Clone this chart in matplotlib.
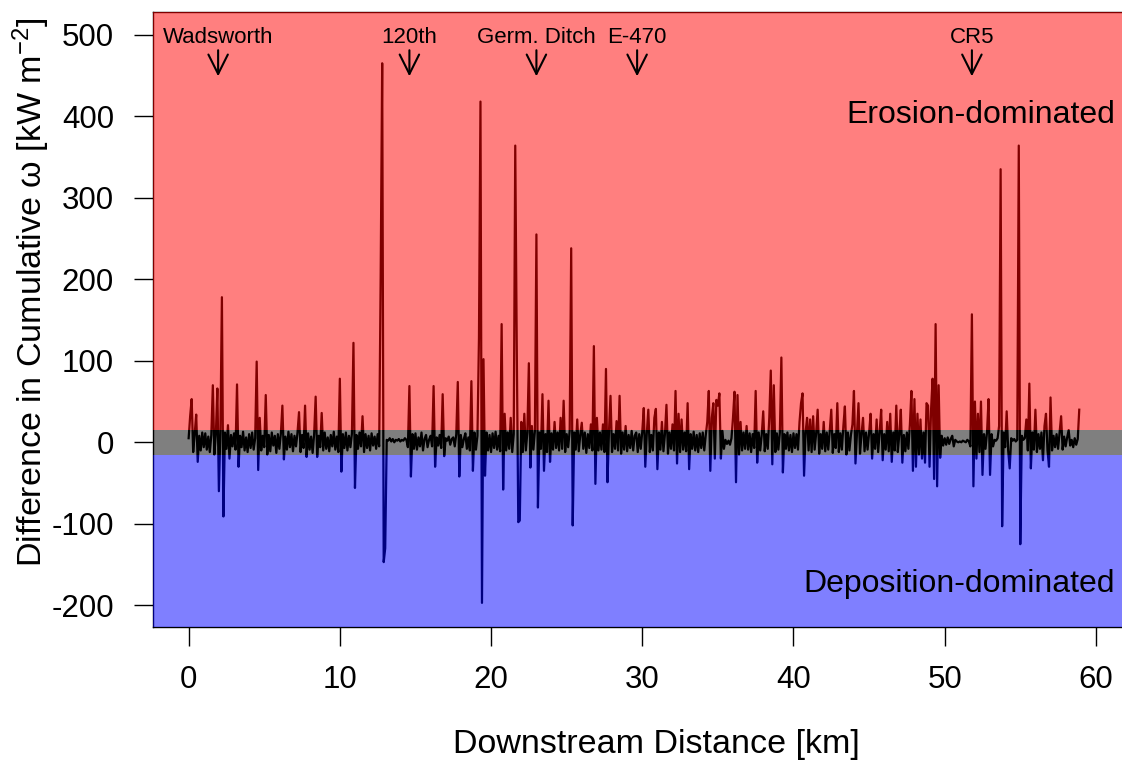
import numpy as np
import matplotlib
matplotlib.use("Agg")
import matplotlib.pyplot as plt

plt.rcParams['font.family'] = ['Liberation Sans', 'DejaVu Sans']
plt.rcParams['mathtext.fontset'] = 'custom'
plt.rcParams['mathtext.rm'] = 'Liberation Sans'
plt.rcParams['mathtext.it'] = 'Liberation Sans:italic'

# Difference in cumulative stream power, sampled every 0.1 km (rows = 1 km)
diff_omega = [
    5, 32, 53, -12, 10, 34, -24, 8, -10, 12,
    -6, 11, -9, 7, -12, 9, 70, -15, 10, 66,
    -60, 14, 178, -91, 12, -8, 21, -20, 9, -5,
    11, -9, 71, -30, 8, -6, 13, -10, 6, -12,
    10, -7, 12, -9, 5, 99, -34, 30, -10, 8,
    -6, 58, -15, 9, -11, 12, -4, 8, -13, 10,
    -8, 11, 45, -21, 7, -9, 13, -6, 10, -11,
    8, -5, 12, 37, -12, 9, -7, 45, -18, 11,
    -9, 7, -13, 10, 56, -18, 8, -6, 36, -10,
    12, -8, 6, -11, 9, -5, 13, -9, 7, -12,
    78, -36, 10, -7, 12, -10, 8, -6, 11, 122,
    -56, 9, -8, 12, -5, 32, -12, 10, -7, 8,
    -10, 11, -4, 7, -8, 10, -5, 204, 465, -147,
    -130, 3, 2, 5, 1, 4, 0, 3, 2, 4,
    1, 3, 2, 5, 3, -6, 69, -42, 10, -8,
    11, -9, 6, -5, 12, -10, 4, 9, -6, 3,
    8, -5, 69, -30, 6, -4, 9, -7, 59, -17,
    5, 2, 7, -3, 4, 6, -5, 10, 74, -42,
    9, -6, 4, 11, -8, 6, -10, 75, -35, 12,
    -9, 8, 128, 418, -197, 102, -41, 12, -10, 9,
    -12, 11, -7, 13, -9, 8, -11, 145, -58, 35,
    -10, 12, -8, 30, -12, 10, 364, 117, -98, -96,
    25, -12, 35, -10, 12, 97, -31, 20, -9, 14,
    255, -80, 12, -8, 59, -35, 10, -12, 51, -24,
    11, -9, 25, -7, 12, -10, 30, -8, 51, -12,
    10, -6, 14, 238, -102, 12, -9, 28, -11, 9,
    24, -8, 12, -13, 10, -7, 22, -10, 118, -51,
    30, -10, 12, -9, 22, -12, 90, -49, 14, 57,
    -12, 10, -8, 26, -10, 57, -14, 12, -9, 20,
    -11, 9, -7, 14, -10, 8, 12, -12, 10, -8,
    13, 42, -30, 11, 40, -12, 9, -10, 30, 41,
    -33, 12, -9, 25, -11, 10, 46, -14, 12, -8,
    22, -10, 63, -26, 35, -12, 28, -9, 12, -11,
    48, -33, 10, -8, 13, -10, 9, -12, 11, -7,
    12, -10, 9, 25, 63, -35, 30, 48, -20, 52,
    45, 60, -20, 14, -8, 3, -2, 2, -3, 5,
    30, 62, -49, 58, -15, 25, -10, 12, -8, 20,
    -9, 11, -12, 10, -7, 63, -25, 12, -10, 9,
    38, -11, 10, -8, 30, 88, -27, 70, -12, 11,
    -9, 12, 104, -37, 10, -8, 12, -10, 9, -12,
    11, -7, 10, -9, 25, 48, 60, -41, 12, 30,
    -10, 28, -12, 32, -9, 11, 40, -14, 10, -8,
    25, -11, 12, -9, 14, 40, -13, 10, -7, 48,
    -12, 11, -9, 20, 44, -15, 12, -10, 9, 22,
    63, -26, 12, 48, -14, 10, 30, -11, 12, -9,
    11, 35, -20, 10, -8, 28, -12, 12, 40, -22,
    10, -9, 25, -11, 35, -24, 12, -10, 45, -12,
    10, 40, -25, 9, -11, 12, -8, 22, 63, -35,
    53, -30, 35, -15, 28, -20, 12, -25, 48, 45,
    -30, 40, 78, -45, 145, -54, 70, -19, 8, -4,
    5, -3, 6, -2, 4, 8, -5, 3, 1, 0,
    1, 0, 2, 1, 0, 3, 1, -5, 157, -54,
    50, -20, 35, -12, 50, -40, 10, -8, 12, 53,
    -40, 10, -5, 3, 2, 5, 20, 335, -103, 12,
    -6, 38, -10, -32, 5, 2, 4, 1, 3, 364,
    -125, 8, 3, 5, 28, -10, 72, -32, 12, -9,
    40, -12, 10, -8, 12, -22, 20, 35, -10, -30,
    55, -10, 8, -6, 10, -8, 12, 32, -9, 7,
    -5, 6, 15, -4, 3, -6, 5, -3, 4, 40,
]
station_step_km = 0.1
distance_km = np.arange(len(diff_omega)) * station_step_km

site_names = ["Wadsworth", "120th", "Germ. Ditch", "E-470", "CR5"]
site_km = [1.95, 14.6, 23.0, 29.66, 51.8]

x_ticks = [0, 10, 20, 30, 40, 50, 60]
y_ticks = [-200, -100, 0, 100, 200, 300, 400, 500]
threshold = 15

W, H = 1122, 760
fig = plt.figure(figsize=(W / 100, H / 100), dpi=100)
ax = fig.add_axes([152.5 / W, (H - 627) / H, (1129 - 152.5) / W, (627 - 12) / H])

ax.plot(distance_km, diff_omega, color='black', lw=1.6, zorder=2)

ax.set_xlim(-2.39, 62.19)
ax.set_ylim(-226.6, 527.9)

# translucent classification bands drawn over the series
ax.axhspan(threshold, 600, color='#ff0000', alpha=0.5, lw=0, zorder=3)
ax.axhspan(-threshold, threshold, color='#000000', alpha=0.5, lw=0, zorder=3)
ax.axhspan(-300, -threshold, color='#0000ff', alpha=0.5, lw=0, zorder=3)

for s in ax.spines.values():
    s.set_linewidth(1.0)
    s.set_zorder(2.5)

ax.set_xticks(x_ticks)
ax.set_xticklabels([str(v) for v in x_ticks])
ax.set_yticks(y_ticks)
ax.set_yticklabels([str(v) for v in y_ticks])
ax.tick_params(axis='both', direction='out', length=13.7, width=1.0,
               labelsize=22.5, colors='black')
ax.tick_params(axis='x', pad=14)
ax.tick_params(axis='y', pad=14)

for name, km in zip(site_names, site_km):
    ax.text(km, 490, name, ha='center', va='baseline', fontsize=16, zorder=6)
    ax.annotate('', xy=(km, 449), xytext=(km, 481),
                arrowprops=dict(arrowstyle='->,head_length=0.7,head_width=0.35',
                                lw=1.5, color='black', mutation_scale=20,
                                shrinkA=0, shrinkB=0),
                zorder=6)

ax.text(61.26, 391.6, 'Erosion-dominated', ha='right', va='baseline',
        fontsize=23, zorder=6)
ax.text(61.26, -184, 'Deposition-dominated', ha='right', va='baseline',
        fontsize=23, zorder=6)

fig.text(656 / W, 1 - 744 / H, 'Downstream Distance [km]', ha='center',
         va='center', fontsize=24.5)
fig.text(31 / W, 1 - 292 / H, 'Difference in Cumulative ω [kW m$^{-2}$]',
         ha='center', va='center', rotation=90, fontsize=24.5)

fig.savefig('out.png', dpi=100)
